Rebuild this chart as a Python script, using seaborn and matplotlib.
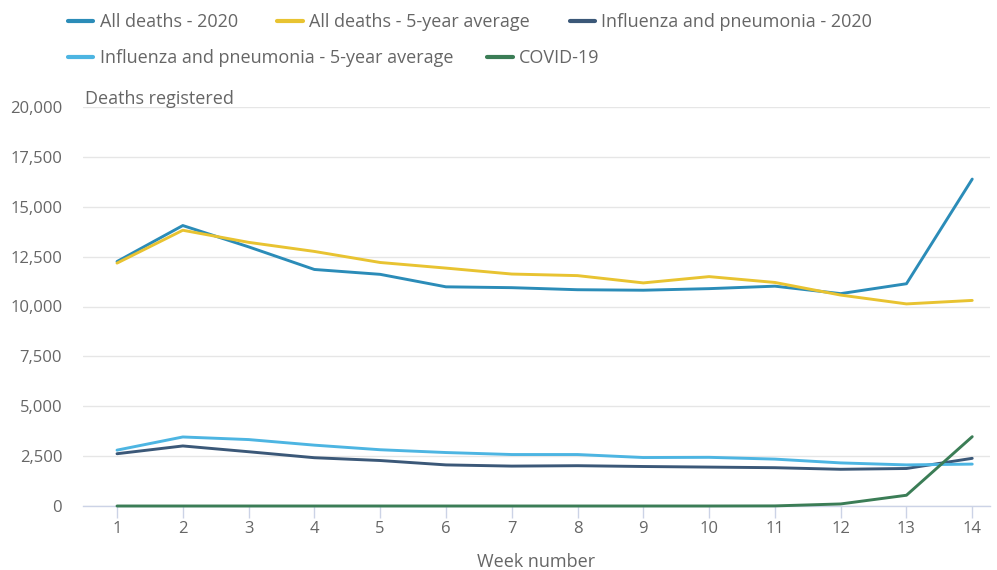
import matplotlib
matplotlib.use("Agg")
import matplotlib.pyplot as plt
import seaborn as sns
import pandas as pd
from matplotlib.lines import Line2D
from matplotlib.ticker import FuncFormatter

weeks = list(range(1, 15))
all_deaths_2020 = [12254, 14058, 12990, 11856, 11612, 10986, 10944, 10841, 10816, 10895, 11019, 10645, 11141, 16387]
all_deaths_avg = [12175, 13822, 13216, 12760, 12206, 11925, 11627, 11548, 11183, 11498, 11205, 10573, 10130, 10305]
flu_2020 = [2620, 3010, 2720, 2420, 2280, 2060, 2000, 2020, 1980, 1950, 1920, 1840, 1880, 2390]
flu_avg = [2800, 3460, 3330, 3050, 2820, 2680, 2580, 2580, 2430, 2440, 2350, 2160, 2060, 2100]
covid = [0, 0, 0, 0, 0, 0, 0, 0, 0, 0, 5, 103, 539, 3475]

series_names = ["All deaths - 2020", "All deaths - 5-year average", "Influenza and pneumonia - 2020",
                "Influenza and pneumonia - 5-year average", "COVID-19"]
series_values = [all_deaths_2020, all_deaths_avg, flu_2020, flu_avg, covid]
colors = ["#2b8cb8", "#e8c331", "#3b5878", "#4db5e2", "#3b7d56"]

rows = []
for name, vals in zip(series_names, series_values):
    for w, v in zip(weeks, vals):
        rows.append({"week": w, "deaths": v, "series": name})
df = pd.DataFrame(rows)

sns.set_theme(style="white")
plt.rcParams["font.family"] = ["Open Sans", "DejaVu Sans"]

text_color = "#666666"

fig = plt.figure(figsize=(9.97, 5.70), dpi=100)
ax = fig.add_axes([83 / 997, 64 / 570, (990 - 83) / 997, (506 - 107) / 570])

palette = dict(zip(series_names, colors))
sns.lineplot(data=df, x="week", y="deaths", hue="series", palette=palette, ax=ax,
             linewidth=2.1, legend=False, zorder=3)
for ln in ax.get_lines():
    ln.set_clip_on(False)

ax.set_xlim(0.483, 14.27)
ax.set_ylim(0, 20000)
ax.set_yticks(range(0, 20001, 2500))
ax.yaxis.set_major_formatter(FuncFormatter(lambda v, p: f"{int(v):,}"))
ax.set_xticks(weeks)
ax.grid(axis="y", color="#e6e6e6", linewidth=1.0, zorder=0)
for s in ["top", "right", "left"]:
    ax.spines[s].set_visible(False)
ax.spines["bottom"].set_color("#ccd3e6")
ax.spines["bottom"].set_linewidth(1.0)
ax.tick_params(axis="x", which="major", length=8.5, width=1, color="#ccd3e6",
               labelsize=12, labelcolor=text_color, pad=2, bottom=True)
ax.tick_params(axis="y", length=0, labelsize=12, labelcolor=text_color, pad=15)

ax.set_xlabel("Week number", fontsize=13, color=text_color, labelpad=12)
ax.set_ylabel("")
ax.text(0.002, 0.998, "Deaths registered", transform=ax.transAxes, fontsize=13,
        color=text_color, ha="left", va="bottom")

def handles(idx):
    return [Line2D([0], [0], color=colors[i], linewidth=3) for i in idx]

common = dict(loc="center left", frameon=False, fontsize=13, handlelength=1.4,
              handletextpad=0.35, labelcolor=text_color, borderaxespad=0, borderpad=0)
leg1 = fig.legend(handles([0, 1, 2]), [series_names[i] for i in [0, 1, 2]],
                  bbox_to_anchor=(68 / 997, 1 - 22 / 570), ncol=3, columnspacing=2.2, **common)
leg2 = fig.legend(handles([3, 4]), [series_names[i] for i in [3, 4]],
                  bbox_to_anchor=(68 / 997, 1 - 58 / 570), ncol=2, columnspacing=1.9, **common)

fig.savefig("out.png", dpi=100)
